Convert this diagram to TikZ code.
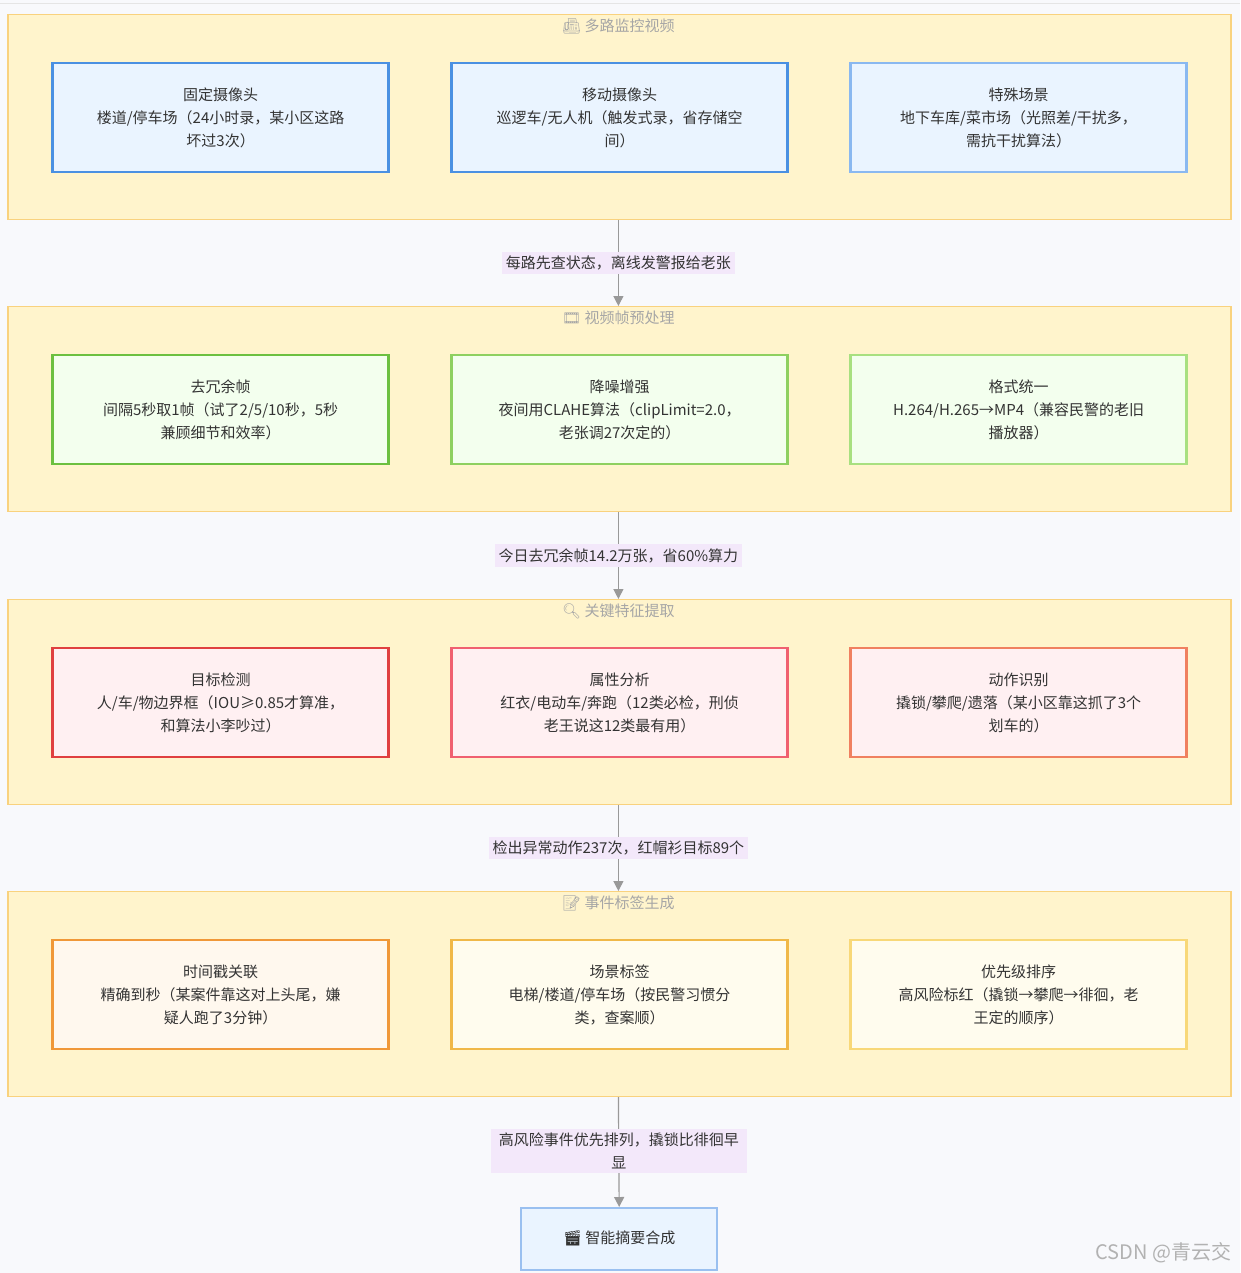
\documentclass[tikz,border=0pt]{standalone}
\usepackage{fontspec}
\setmainfont{Noto Sans CJK SC}
\newfontfamily\emo{Noto Emoji}
\usetikzlibrary{arrows.meta}
\definecolor{bgc}{HTML}{F8F9FC}
\definecolor{grpFill}{HTML}{FFF4CC}
\definecolor{grpLine}{HTML}{F9D27E}
\definecolor{lblFill}{HTML}{F3E8FA}
\definecolor{arrowC}{HTML}{999999}
\definecolor{blueA}{HTML}{4A90E2}\definecolor{blueB}{HTML}{8AB8F0}\definecolor{blueF}{HTML}{EAF4FF}
\definecolor{greenA}{HTML}{6CC040}\definecolor{greenB}{HTML}{8ED060}\definecolor{greenC}{HTML}{A8E080}\definecolor{greenF}{HTML}{F3FFEE}
\definecolor{redA}{HTML}{E04040}\definecolor{redB}{HTML}{F06070}\definecolor{redC}{HTML}{F08060}\definecolor{redF}{HTML}{FFF0F2}
\definecolor{orA}{HTML}{F09838}\definecolor{orB}{HTML}{F0B848}\definecolor{orC}{HTML}{F8D878}\definecolor{orF}{HTML}{FFF8EE}\definecolor{orG}{HTML}{FFFCEE}
\definecolor{sumLine}{HTML}{9AC0F0}
\begin{document}
\begin{tikzpicture}[x=0.5pt, y=-0.5pt,
    every node/.style={font=\fontsize{7.5pt}{11.5pt}\selectfont, text=black!80, align=center},
    groupBox/.style={draw=grpLine, fill=grpFill, line width=0.6pt, minimum width=611.5pt, minimum height=102.5pt, anchor=north west},
    groupTitle/.style={text=black!35, anchor=north},
    stepBox/.style={line width=1.2pt, minimum width=168pt, minimum height=54.5pt, text width=135pt, anchor=north west},
    edgeLabel/.style={fill=lblFill, inner sep=2pt},
    flow/.style={draw=arrowC, line width=0.6pt, -{Triangle[length=5pt,width=5pt]}},
    ]
    \fill[bgc] (0,0) rectangle (1240,1273);
    \draw[black!10] (0,3) -- (1240,3);

    % groups
    \node[groupBox] (g1) at (7,14) {};
    \node[groupBox] (g2) at (7,306) {};
    \node[groupBox] (g3) at (7,599) {};
    \node[groupBox] (g4) at (7,891) {};
    \node[groupTitle] (t1) at (618,12) {{\emo 📠} 多路监控视频};
    \node[groupTitle] (t2) at (618,304) {{\emo 🎞} 视频帧预处理};
    \node[groupTitle] (t3) at (618,597) {{\emo 🔍} 关键特征提取};
    \node[groupTitle] (t4) at (618,889) {{\emo 📝} 事件标签生成};

    % row 1
    \node[stepBox, draw=blueA, fill=blueF] (fixed) at (51,62) {};
    \node[stepBox, draw=blueA, fill=blueF] (mobile) at (450,62) {};
    \node[stepBox, draw=blueB, fill=blueF] (special) at (849,62) {};
    \node at (fixed.center) {固定摄像头\\楼道/停车场（24小时录，某小区这路\\坏过3次）};
    \node at (mobile.center) {移动摄像头\\巡逻车/无人机（触发式录，省存储空\\间）};
    \node at (special.center) {特殊场景\\地下车库/菜市场（光照差/干扰多，\\需抗干扰算法）};

    % row 2
    \node[stepBox, draw=greenA, fill=greenF] (dedup) at (51,354) {};
    \node[stepBox, draw=greenB, fill=greenF] (denoise) at (450,354) {};
    \node[stepBox, draw=greenC, fill=greenF] (format) at (849,354) {};
    \node at (dedup.center) {去冗余帧\\间隔5秒取1帧（试了2/5/10秒，5秒\\兼顾细节和效率）};
    \node at (denoise.center) {降噪增强\\夜间用CLAHE算法（clipLimit=2.0，\\老张调27次定的）};
    \node at (format.center) {格式统一\\H.264/H.265→MP4（兼容民警的老旧\\播放器）};

    % row 3
    \node[stepBox, draw=redA, fill=redF] (detect) at (51,647) {};
    \node[stepBox, draw=redB, fill=redF] (attr) at (450,647) {};
    \node[stepBox, draw=redC, fill=redF] (action) at (849,647) {};
    \node at (detect.center) {目标检测\\人/车/物边界框（IOU≥0.85才算准，\\和算法小李吵过）};
    \node at (attr.center) {属性分析\\红衣/电动车/奔跑（12类必检，刑侦\\老王说这12类最有用）};
    \node at (action.center) {动作识别\\撬锁/攀爬/遗落（某小区靠这抓了3个\\划车的）};

    % row 4
    \node[stepBox, draw=orA, fill=orF] (stamp) at (51,939) {};
    \node[stepBox, draw=orB, fill=orG] (scene) at (450,939) {};
    \node[stepBox, draw=orC, fill=orG] (prio) at (849,939) {};
    \node at (stamp.center) {时间戳关联\\精确到秒（某案件靠这对上头尾，嫌\\疑人跑了3分钟）};
    \node at (scene.center) {场景标签\\电梯/楼道/停车场（按民警习惯分\\类，查案顺）};
    \node at (prio.center) {优先级排序\\高风险标红（撬锁→攀爬→徘徊，老\\王定的顺序）};

    % final
    \node[draw=sumLine, fill=blueF, line width=0.8pt, minimum width=98pt, minimum height=31pt, anchor=north west] (summary) at (520,1207) {};
    \node at (summary.center) {{\emo 🎬} 智能摘要合成};

    % connectors
    \draw[flow] (g1.south -| 618,0) -- (g2.north -| 618,0) node[pos=0.5, edgeLabel] (l1) {每路先查状态，离线发警报给老张};
    \draw[flow] (g2.south -| 618,0) -- (g3.north -| 618,0) node[pos=0.5, edgeLabel] (l2) {今日去冗余帧14.2万张，省60\%算力};
    \draw[flow] (g3.south -| 618,0) -- (g4.north -| 618,0) node[pos=0.5, edgeLabel] (l3) {检出异常动作237次，红帽衫目标89个};
    \draw[flow] (g4.south -| 618,0) -- (summary.north) node[pos=0.49, edgeLabel, text width=124pt] (l4) {高风险事件优先排列，撬锁比徘徊早\\显};
    \node[text=black!30, anchor=south east, font=\fontsize{10pt}{12pt}\selectfont] (mark) at (1238,1270) {CSDN @青云交};
\end{tikzpicture}
\end{document}
